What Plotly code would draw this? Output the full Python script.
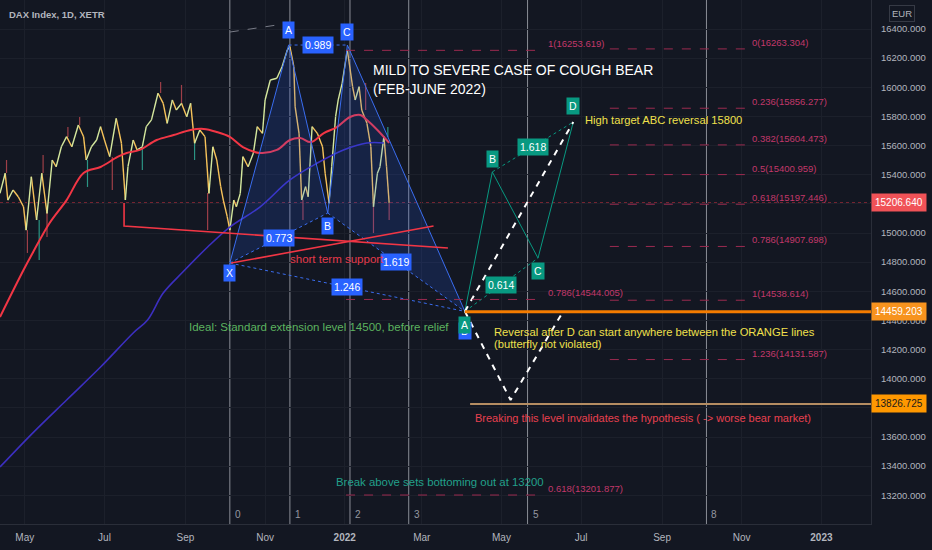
import plotly.graph_objects as go
import pandas as pd

price_dates = ['2021-04-12', '2021-04-16', '2021-04-18', '2021-04-22', '2021-04-26', '2021-04-30',
               '2021-05-02', '2021-05-06', '2021-05-10', '2021-05-14', '2021-05-18', '2021-05-22',
               '2021-05-25', '2021-05-29', '2021-06-02', '2021-06-06', '2021-06-11', '2021-06-15',
               '2021-06-17', '2021-06-21', '2021-06-25', '2021-06-28', '2021-07-01', '2021-07-05',
               '2021-07-10', '2021-07-14', '2021-07-17', '2021-07-19', '2021-07-23', '2021-07-26',
               '2021-07-30', '2021-08-02', '2021-08-06', '2021-08-11', '2021-08-15', '2021-08-18',
               '2021-08-22', '2021-08-25', '2021-08-29', '2021-09-02', '2021-09-05', '2021-09-08',
               '2021-09-12', '2021-09-16', '2021-09-19', '2021-09-22', '2021-09-25', '2021-09-28',
               '2021-09-30', '2021-10-03', '2021-10-05', '2021-10-08', '2021-10-10', '2021-10-13',
               '2021-10-15', '2021-10-19', '2021-10-23', '2021-10-26', '2021-10-30', '2021-11-01',
               '2021-11-05', '2021-11-10', '2021-11-14', '2021-11-18', '2021-11-20', '2021-11-23',
               '2021-11-24', '2021-11-27', '2021-11-29', '2021-12-02', '2021-12-04', '2021-12-07',
               '2021-12-11', '2021-12-15', '2021-12-17', '2021-12-20', '2021-12-22', '2021-12-25',
               '2021-12-27', '2021-12-30', '2022-01-03', '2022-01-07', '2022-01-09', '2022-01-12',
               '2022-01-14', '2022-01-18', '2022-01-21', '2022-01-23', '2022-01-26', '2022-01-28',
               '2022-01-31', '2022-02-02', '2022-02-04']
price_close = [15272, 15410, 15226, 15295, 15249, 15180,
               15020, 15386, 15089, 15410, 15135, 15501,
               15455, 15592, 15661, 15592, 15741, 15661,
               15501, 15592, 15638, 15730, 15638, 15524,
               15787, 15616, 15226, 15455, 15638, 15570,
               15592, 15730, 15776, 15959, 15890, 15753,
               15913, 15844, 15890, 15798, 15890, 15616,
               15707, 15661, 15272, 15592, 15501, 15318,
               15226, 15112, 15020, 15226, 15180, 15272,
               15524, 15455, 15547, 15730, 15684, 15913,
               16050, 16062, 16141, 16256, 16279, 16141,
               15867, 15684, 15226, 15318, 15249, 15730,
               15684, 15592, 15410, 15204, 15455, 15798,
               15913, 16027, 16256, 16004, 15913, 16004,
               15844, 15753, 15592, 15180, 15410, 15455,
               15661, 15455, 15207]

# visible candle wicks: date, body end, wick tip, colour (d = down / u = up)
wick_dates = ['2021-04-17', '2021-05-03', '2021-05-12', '2021-05-15', '2021-05-18', '2021-06-03',
              '2021-06-12', '2021-06-18', '2021-07-07', '2021-07-30', '2021-08-13', '2021-08-29',
              '2021-09-08', '2021-09-18', '2021-10-05', '2021-11-30', '2022-01-17', '2022-01-23',
              '2022-02-03', '2022-02-04']
wick_from = [15412, 15020, 15089, 15412, 15137, 15659, 15741, 15501, 15522, 15590,
             15961, 15892, 15617, 15274, 15020, 15226, 15844, 15178, 15659, 15206]
wick_to = [15501, 14863, 14815, 15535, 14973, 15727, 15796, 15316, 15295, 15432,
           16036, 16016, 15501, 15020, 14952, 15089, 16029, 15000, 15727, 15089]
wick_side = ['d', 'd', 'u', 'd', 'd', 'd', 'd', 'u', 'd', 'u',
             'd', 'd', 'u', 'd', 'd', 'd', 'd', 'd', 'u', 'd']

# moving averages
ma_red_dates = ['2021-04-12', '2021-04-30', '2021-05-07', '2021-05-20', '2021-06-02', '2021-06-15',
                '2021-06-28', '2021-07-11', '2021-07-18', '2021-07-28', '2021-08-10', '2021-08-23',
                '2021-09-05', '2021-09-15', '2021-09-25', '2021-10-05', '2021-10-15', '2021-10-28',
                '2021-11-10', '2021-11-20', '2021-11-28', '2021-12-06', '2021-12-16', '2021-12-26',
                '2022-01-05', '2022-01-13', '2022-01-18', '2022-01-26', '2022-02-04']
ma_red = [14424, 14746, 14863, 15069, 15226, 15412,
          15453, 15522, 15549, 15570, 15638, 15672,
          15707, 15714, 15693, 15659, 15590, 15549,
          15570, 15638, 15652, 15624, 15686, 15727,
          15796, 15810, 15775, 15707, 15618]
ma_blue_dates = ['2021-04-12', '2021-05-07', '2021-06-02', '2021-06-28', '2021-07-23', '2021-08-03',
                 '2021-08-15', '2021-08-30', '2021-09-18', '2021-10-05', '2021-10-28', '2021-11-20',
                 '2021-12-11', '2021-12-31', '2022-01-18', '2022-01-31']
ma_blue = [13394, 13627, 13854, 14080, 14314, 14403,
           14588, 14732, 14904, 15041, 15178, 15364,
           15480, 15570, 15618, 15618]

# XABCD harmonic (blue)
xabcd_names = ['X', 'A', 'B', 'C', 'D']
xabcd_dates = ['2021-10-05', '2021-11-19', '2021-12-19', '2022-01-03', '2022-04-03']
xabcd_prices = [14794, 16290, 15137, 16290, 14462]
xabcd_ratios = {('X', 'B'): '0.773', ('A', 'C'): '0.989', ('B', 'D'): '1.619', ('X', 'D'): '1.246'}

# ABCD projection (green)
abcd_names = ['A', 'B', 'C', 'D']
abcd_dates = ['2022-04-03', '2022-04-24', '2022-05-29', '2022-06-25']
abcd_prices = [14462, 15419, 14828, 15762]
abcd_ratios = {('A', 'C'): '0.614', ('B', 'D'): '1.618'}

# dashed white scenario paths
path_v_dates = ['2022-04-03', '2022-05-08', '2022-06-17']
path_v_prices = [14462, 13854, 14458]
path_up_dates = ['2022-04-03', '2022-06-25']
path_up_prices = [14462, 15762]

# red trend lines
trend1_dates = ['2021-07-16', '2021-07-16', '2022-03-21']
trend1_prices = [15206, 15048, 14897]
trend2_dates = ['2021-10-06', '2022-03-10']
trend2_prices = [14794, 15048]
grey_dates = ['2021-10-05', '2021-11-15']
grey_prices = [16379, 16434]

# fib retracements
fib_r_levels = ['0', '0.236', '0.382', '0.5', '0.618', '0.786', '1', '1.236']
fib_r_prices = [16263.304, 15856.277, 15604.473, 15400.959, 15197.446, 14907.698, 14538.614, 14131.587]
fib_r_span = ['2022-07-23', '2022-11-06']
fib_l_levels = ['1', '0.786', '0.618']
fib_l_prices = [16253.619, 14544.005, 13201.877]
fib_l_span = ['2022-01-02', '2022-06-01']

# fib time zones
tz_dates = ['2021-10-05', '2021-11-20', '2022-01-05', '2022-02-19', '2022-05-21', '2022-10-05']
tz_labels = ['0', '1', '2', '3', '5', '8']

last_price = 15206.640
orange_level = 14459.203
orange_start = '2022-04-03'
tan_level = 13826.725
tan_start = '2022-04-07'

x_range = ['2021-04-12', '2023-02-08']
y_range = [13003, 16599]
x_ticks = ['2021-05-01', '2021-07-01', '2021-09-01', '2021-11-01', '2022-01-01', '2022-03-01',
           '2022-05-01', '2022-07-01', '2022-09-01', '2022-11-01', '2023-01-01']
x_ticktext = ['May', 'Jul', 'Sep', 'Nov', '<b>2022</b>', 'Mar', 'May', 'Jul', 'Sep', 'Nov', '<b>2023</b>']
y_ticks = [13200, 13400, 13600, 13800, 14000, 14200, 14400, 14600, 14800, 15000,
           15200, 15400, 15600, 15800, 16000, 16200, 16400]

FONT = "Liberation Sans, Arial, sans-serif"
BG = '#131722'
BLUE = '#2962ff'
TEAL = '#089981'
AXIS_TXT = '#b2b5be'
PLOT_W, PLOT_H = 871, 524

fig = go.Figure()

# ---- wicks behind the price line ----
for side, col in (('d', '#9e3f48'), ('u', '#2b9484')):
    wx, wy = [], []
    for d, a, b, s in zip(wick_dates, wick_from, wick_to, wick_side):
        if s == side:
            wx += [d, d, None]
            wy += [a, b, None]
    fig.add_trace(go.Scatter(x=wx, y=wy, mode='lines', line=dict(color=col, width=1.2)))

# ---- price: colour each step by direction ----
up_x, up_y, dn_x, dn_y = [], [], [], []
for i in range(1, len(price_close)):
    xs, ys = (up_x, up_y) if price_close[i] >= price_close[i - 1] else (dn_x, dn_y)
    xs.extend([price_dates[i - 1], price_dates[i], None])
    ys.extend([price_close[i - 1], price_close[i], None])
fig.add_trace(go.Scatter(x=dn_x, y=dn_y, mode='lines', line=dict(color='#f7c35a', width=1.4)))
fig.add_trace(go.Scatter(x=up_x, y=up_y, mode='lines', line=dict(color='#d5e89e', width=1.4)))

fig.add_trace(go.Scatter(x=ma_red_dates, y=ma_red, mode='lines', line=dict(color='#f23645', width=2, shape='spline')))
fig.add_trace(go.Scatter(x=ma_blue_dates, y=ma_blue, mode='lines', line=dict(color='#3c2fc0', width=1.6, shape='spline')))

# ---- harmonic pattern ----
pt = {n: (pd.Timestamp(d), p) for n, d, p in zip(xabcd_names, xabcd_dates, xabcd_prices)}
for tri in (['X', 'A', 'B'], ['B', 'C', 'D']):
    fig.add_trace(go.Scatter(x=[pt[n][0] for n in tri], y=[pt[n][1] for n in tri], fill='toself',
                             fillcolor='rgba(41,98,255,0.16)', mode='lines', line=dict(width=0)))
fig.add_trace(go.Scatter(x=xabcd_dates, y=xabcd_prices, mode='lines', line=dict(color='#3a6df0', width=1)))
for (a, b) in xabcd_ratios:
    fig.add_trace(go.Scatter(x=[pt[a][0], pt[b][0]], y=[pt[a][1], pt[b][1]], mode='lines',
                             line=dict(color='#3a6df0', width=1, dash='dot')))

gp = {n: (pd.Timestamp(d), p) for n, d, p in zip(abcd_names, abcd_dates, abcd_prices)}
fig.add_trace(go.Scatter(x=abcd_dates, y=abcd_prices, mode='lines', line=dict(color=TEAL, width=1)))
for (a, b) in abcd_ratios:
    fig.add_trace(go.Scatter(x=[gp[a][0], gp[b][0]], y=[gp[a][1], gp[b][1]], mode='lines',
                             line=dict(color=TEAL, width=1, dash='dot')))

# ---- drawings ----
for xs, ys in ((path_v_dates, path_v_prices), (path_up_dates, path_up_prices)):
    fig.add_trace(go.Scatter(x=xs, y=ys, mode='lines', line=dict(color='#ffffff', width=2, dash='6px,6px')))
fig.add_trace(go.Scatter(x=trend1_dates, y=trend1_prices, mode='lines', line=dict(color='#f23645', width=1.6)))
fig.add_trace(go.Scatter(x=trend2_dates, y=trend2_prices, mode='lines', line=dict(color='#f23645', width=1.6)))
fig.add_trace(go.Scatter(x=grey_dates, y=grey_prices, mode='lines', line=dict(color='#787b86', width=1, dash='dash')))

fx, fy = [], []
for p in fib_r_prices:
    fx += [fib_r_span[0], fib_r_span[1], None]
    fy += [p, p, None]
for p in fib_l_prices:
    fx += [fib_l_span[0], fib_l_span[1], None]
    fy += [p, p, None]
fig.add_trace(go.Scatter(x=fx, y=fy, mode='lines', line=dict(color='#9c2b50', width=1, dash='dash')))

fig.add_trace(go.Scatter(x=[orange_start, x_range[1]], y=[orange_level, orange_level], mode='lines',
                         line=dict(color='#f57c00', width=3)))
fig.add_trace(go.Scatter(x=[tan_start, x_range[1]], y=[tan_level, tan_level], mode='lines',
                         line=dict(color='#b58d62', width=2)))

shapes = [dict(type='line', xref='paper', x0=0, x1=1, yref='y', y0=last_price, y1=last_price,
               line=dict(color='rgba(242,54,69,0.7)', width=1, dash='dot'), layer='below')]
for d in tz_dates:
    shapes.append(dict(type='line', xref='x', x0=d, x1=d, yref='paper', y0=0, y1=1,
                       line=dict(color='#8a8d96', width=1), layer='below'))

ann = []


def box(x, y, text, bg, yshift=0, fc='#ffffff'):
    ann.append(dict(x=x, y=y, xref='x', yref='y', text=text, showarrow=False, yshift=yshift,
                    bgcolor=bg, borderpad=2, font=dict(family=FONT, size=10.5, color=fc)))


shift_blue = {'X': -10, 'A': 15, 'B': -13, 'C': 13, 'D': -20}
for n in xabcd_names:
    box(pt[n][0], pt[n][1], n, BLUE, shift_blue[n])
for (a, b), r in xabcd_ratios.items():
    box(pt[a][0] + (pt[b][0] - pt[a][0]) / 2, (pt[a][1] + pt[b][1]) / 2, r, BLUE)

shift_green = {'A': -14, 'B': 13, 'C': -13, 'D': 16}
for n in abcd_names:
    box(gp[n][0], gp[n][1], n, TEAL, shift_green[n])
for (a, b), r in abcd_ratios.items():
    box(gp[a][0] + (gp[b][0] - gp[a][0]) / 2, (gp[a][1] + gp[b][1]) / 2, r, TEAL)

for lvl, p in zip(fib_r_levels, fib_r_prices):
    ann.append(dict(x=fib_r_span[1], y=p, xref='x', yref='y', text=f"{lvl}({p:.3f})", showarrow=False,
                    xanchor='left', yanchor='bottom', xshift=2, yshift=-1,
                    font=dict(family=FONT, size=9.5, color='#c2386a')))
for lvl, p in zip(fib_l_levels, fib_l_prices):
    ann.append(dict(x=fib_l_span[1], y=p, xref='x', yref='y', text=f"{lvl}({p:.3f})", showarrow=False,
                    xanchor='left', yanchor='bottom', xshift=4, yshift=-1,
                    font=dict(family=FONT, size=9.5, color='#c2386a')))

for d, t in zip(tz_dates, tz_labels):
    ann.append(dict(x=d, y=0, xref='x', yref='paper', text=t, showarrow=False, xanchor='left',
                    yanchor='bottom', xshift=3, yshift=2, font=dict(family=FONT, size=10, color='#9598a1')))

# price tags on the scale
for p, bg, fc in ((last_price, '#f05257', '#ffffff'), (orange_level, '#f7931e', '#ffffff'),
                  (tan_level, '#ff9800', '#1a1a1a')):
    ann.append(dict(x=1, y=p, xref='paper', yref='y', text=f"{p:.3f}", showarrow=False, xanchor='left',
                    xshift=0, bgcolor=bg, borderpad=3, font=dict(family=FONT, size=10, color=fc)))


def note(px_, py_, text, color, size=10.5, anchor='left'):
    ann.append(dict(x=px_ / PLOT_W, y=1 - py_ / PLOT_H, xref='paper', yref='paper', text=text, showarrow=False,
                    xanchor=anchor, yanchor='middle', align='left', font=dict(family=FONT, size=size, color=color)))


note(7, 15, '<b>DAX Index, 1D, XETR</b>', AXIS_TXT, 9.5)
note(371, 70, 'MILD TO SEVERE CASE OF COUGH BEAR', '#ffffff', 14)
note(371, 89, '(FEB-JUNE 2022)', '#ffffff', 14)
note(583, 120, 'High target ABC reversal 15800', '#f0e04c', 11.2)
note(187, 327, 'Ideal: Standard extension level 14500, before relief', '#5cb35f', 11.5)
note(492, 332, 'Reversal after D can start anywhere between the ORANGE lines', '#f0e04c', 11.2)
note(492, 344, '(butterfly not violated)', '#f0e04c', 11.2)
note(473, 418, 'Breaking this level invalidates the hypothesis ( -> worse bear market)', '#e8404f', 11)
note(334, 482, 'Break above sets bottoming out at 13200', '#22a08a', 11.4)
note(288, 259, 'short term support', '#e53a4a', 11.5)
note(902, 14, 'EUR', AXIS_TXT, 9.5, anchor='center')
ann[-1].update(bordercolor='#363a45', borderwidth=1, borderpad=2)

fig.update_layout(
    width=932, height=550,
    margin=dict(l=0, r=61, t=0, b=26),
    paper_bgcolor=BG, plot_bgcolor=BG,
    showlegend=False,
    shapes=shapes, annotations=ann,
    font=dict(family=FONT, color=AXIS_TXT),
    xaxis=dict(type='date', range=x_range, tickvals=x_ticks, ticktext=x_ticktext,
               tickfont=dict(family=FONT, size=10, color=AXIS_TXT), gridcolor='#1c202b',
               showline=True, linecolor='#2a2e39', zeroline=False, ticklabelstandoff=4),
    yaxis=dict(side='right', range=y_range, tickvals=y_ticks, tickformat='.3f',
               tickfont=dict(family=FONT, size=9.5, color=AXIS_TXT), gridcolor='#1c202b',
               showline=True, linecolor='#2a2e39', zeroline=False, ticklabelstandoff=7),
)

fig.write_html("out.html", config={'displayModeBar': False},
               post_script="document.body.style.margin='0';document.body.style.overflow='hidden';")
